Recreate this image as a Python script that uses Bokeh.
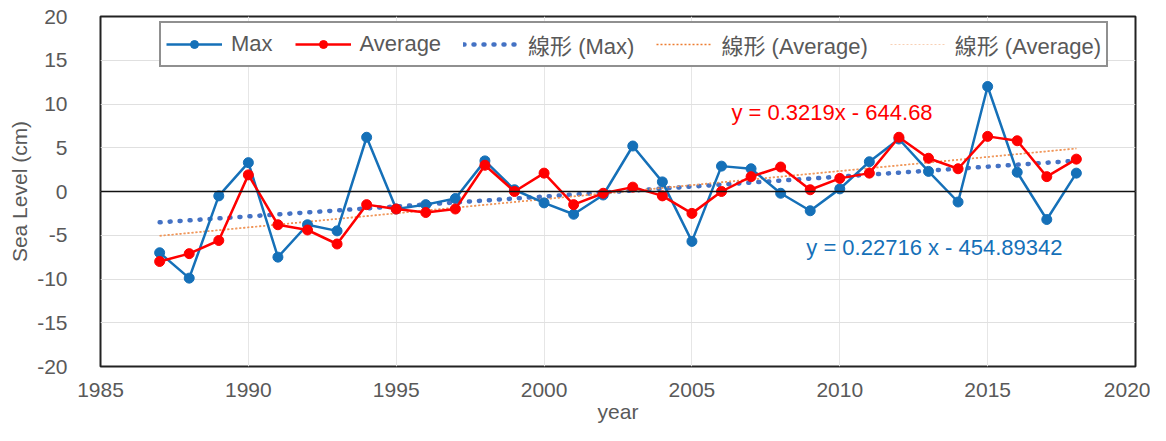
from bokeh.plotting import figure
from bokeh.models import Span, Legend, LegendItem, FixedTicker, Label, PrintfTickFormatter
from bokeh.embed import file_html
from bokeh.resources import INLINE

years = list(range(1987, 2019))
max_level = [-7.0, -9.9, -0.5, 3.3, -7.5, -3.8, -4.5, 6.2, -2.0, -1.5, -0.8, 3.5,
             0.2, -1.3, -2.6, -0.4, 5.2, 1.1, -5.7, 2.9, 2.6, -0.2, -2.2, 0.3,
             3.4, 6.0, 2.3, -1.2, 12.0, 2.2, -3.2, 2.1]
avg_level = [-8.0, -7.1, -5.6, 1.9, -3.8, -4.4, -6.0, -1.5, -2.0, -2.4, -2.0, 3.0,
             0.0, 2.1, -1.5, -0.2, 0.5, -0.5, -2.5, 0.0, 1.7, 2.8, 0.2, 1.5,
             2.1, 6.2, 3.8, 2.6, 6.3, 5.8, 1.7, 3.7]
max_slope, max_icpt = 0.22716, -454.89342
avg_slope, avg_icpt = 0.3219, -644.68
max_eq = "y = 0.22716 x - 454.89342"
avg_eq = "y = 0.3219x  - 644.68"
x_ticks = [1985, 1990, 1995, 2000, 2005, 2010, 2015, 2020]
y_ticks = [-20, -15, -10, -5, 0, 5, 10, 15, 20]

trend_x = [years[0], years[-1]]
max_trend = [max_slope * x + max_icpt for x in trend_x]
avg_trend = [avg_slope * x + avg_icpt for x in trend_x]

FONT = "'Liberation Sans', 'Noto Sans CJK TC', sans-serif"
GRAY = "#595959"
BLUE = "#1570B8"
RED = "#FF0000"

p = figure(width=1150, height=425, x_range=(1985, 2020), y_range=(-20, 20),
           output_backend="svg", toolbar_location=None,
           min_border_left=100, min_border_top=16, min_border_right=15, min_border_bottom=59)

p.outline_line_color = "#222222"
p.outline_line_width = 2
p.background_fill_color = "white"

for ax in (p.xaxis[0], p.yaxis[0]):
    ax.axis_line_color = None
    ax.major_tick_line_color = None
    ax.minor_tick_line_color = None
    ax.major_label_text_font = FONT
    ax.major_label_text_font_size = "21px"
    ax.major_label_text_color = GRAY
    ax.axis_label_text_font = FONT
    ax.axis_label_text_font_style = "normal"
    ax.axis_label_text_color = GRAY
    ax.formatter = PrintfTickFormatter(format="%d")

p.xaxis.ticker = FixedTicker(ticks=x_ticks)
p.yaxis.ticker = FixedTicker(ticks=y_ticks)
p.xaxis.major_label_standoff = 10
p.yaxis.major_label_standoff = 27
p.xaxis.axis_label = "year"
p.xaxis.axis_label_text_font_size = "21px"
p.xaxis.axis_label_standoff = 0
p.yaxis.axis_label = "Sea Level (cm)"
p.yaxis.axis_label_text_font_size = "21px"
p.yaxis.axis_label_standoff = 3

p.xgrid.ticker = FixedTicker(ticks=x_ticks)
p.ygrid.ticker = FixedTicker(ticks=y_ticks)
p.xgrid.grid_line_color = "#E6E6E6"
p.ygrid.grid_line_color = "#E0E0E0"

p.add_layout(Span(location=0, dimension="width", line_color="#111111", line_width=1.5))

r_tmax = p.line(trend_x, max_trend, line_color="#4472C4", line_width=4.5,
                line_dash="1 9", line_cap="round")
r_tavg = p.line(trend_x, avg_trend, line_color="#ED7D31", line_width=1.6, line_dash="2 2")
r_tavg2 = p.line(trend_x, avg_trend, line_color="#F4B183", line_width=1.0, line_dash="2 2",
                 line_alpha=0.6)

r_max_l = p.line(years, max_level, line_color=BLUE, line_width=2.5)
r_max_s = p.scatter(years, max_level, size=10, fill_color=BLUE, line_color=BLUE)
r_avg_l = p.line(years, avg_level, line_color=RED, line_width=2.5)
r_avg_s = p.scatter(years, avg_level, size=10, fill_color=RED, line_color=RED)

p.add_layout(Label(x=2009.84, y=9.0, text=avg_eq, text_color=RED, text_font=FONT,
                   text_font_size="22px", text_align="center", text_baseline="middle"))
p.add_layout(Label(x=2013.2, y=-6.4, text=max_eq, text_color=BLUE, text_font=FONT,
                   text_font_size="22px", text_align="center", text_baseline="middle"))

legend = Legend(items=[
    LegendItem(label="Max", renderers=[r_max_l, r_max_s]),
    LegendItem(label="Average", renderers=[r_avg_l, r_avg_s]),
    LegendItem(label="線形 (Max)", renderers=[r_tmax]),
    LegendItem(label="線形 (Average)", renderers=[r_tavg]),
    LegendItem(label="線形 (Average)", renderers=[r_tavg2]),
], orientation="horizontal", location=(59, 299))
legend.label_text_font = FONT
legend.label_text_font_size = "22px"
legend.label_text_color = GRAY
legend.glyph_width = 56
legend.label_standoff = 9
legend.spacing = 22
legend.padding = 5
legend.margin = 0
legend.border_line_color = "#222222"
legend.border_line_width = 2
legend.background_fill_color = "white"
legend.background_fill_alpha = 1.0
p.add_layout(legend, "center")

open("out.html", "w").write(file_html(p, INLINE))
